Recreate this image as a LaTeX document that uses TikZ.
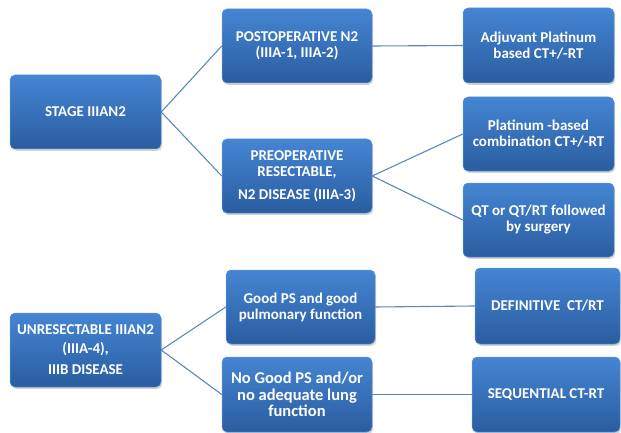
\documentclass[tikz,border=0pt]{standalone}
\usepackage{fontspec}
\setmainfont{Carlito}
\usetikzlibrary{shadows}
\definecolor{boxtop}{HTML}{4585D3}
\definecolor{boxbot}{HTML}{2A5DA0}
\definecolor{linkc}{HTML}{5D87BC}
\tikzset{
  boxn/.style={rectangle, rounded corners=5pt, draw=boxtop!85!white, line width=0.5pt,
    top color=boxtop, bottom color=boxbot, text=white, align=center,
    font=\bfseries\fontsize{15}{16}\selectfont, inner sep=1pt,
    drop shadow={opacity=0.35, shadow xshift=1.2pt, shadow yshift=-1.8pt}},
  link/.style={draw=linkc, line width=1.1pt}
}
\begin{document}
\begin{tikzpicture}[x=1pt,y=-1pt]
\useasboundingbox (0,0) rectangle (621,433);
\node[boxn, minimum width=151pt, minimum height=74pt] (stage) at (85.5,112) {STAGE IIIAN2};
\node[boxn, minimum width=150pt, minimum height=74pt] (post) at (297,46) {POSTOPERATIVE N2\\(IIIA-1, IIIA-2)};
\node[boxn, minimum width=150pt, minimum height=74pt] (pre) at (297,176) {PREOPERATIVE\\RESECTABLE,\\[7pt]N2 DISEASE (IIIA-3)};
\node[boxn, minimum width=151pt, minimum height=75pt] (adj) at (538.5,45.5) {Adjuvant Platinum\\based CT+/-RT};
\node[boxn, minimum width=151pt, minimum height=74pt] (plat) at (538.5,134) {Platinum -based\\combination CT+/-RT};
\node[boxn, minimum width=151pt, minimum height=74pt] (qt) at (538.5,220) {QT or QT/RT followed\\by surgery};
\node[boxn, minimum width=151pt, minimum height=74pt] (unres) at (85.5,350) {UNRESECTABLE IIIAN2\\[3pt](IIIA-4),\\[5pt]IIIB DISEASE};
\node[boxn, minimum width=149pt, minimum height=74pt] (good) at (300.5,307) {Good PS and good\\pulmonary function};
\node[boxn, minimum width=150pt, minimum height=75pt, font=\bfseries\fontsize{16.5}{16.5}\selectfont] (nogood) at (297,394.5) {No Good PS and/or\\no adequate lung\\function};
\node[boxn, minimum width=145pt, minimum height=76pt] (def) at (547.5,306) {DEFINITIVE~ CT/RT};
\node[boxn, minimum width=148pt, minimum height=75pt] (seq) at (546,394.5) {SEQUENTIAL CT-RT};
\path[link] (stage.east) -- (post.west);
\path[link] (stage.east) -- (pre.west);
\path[link] (post.east) -- (adj.west);
\path[link] (pre.east) -- (plat.west);
\path[link] (pre.east) -- (qt.west);
\path[link] (unres.east) -- (good.west);
\path[link] (unres.east) -- (nogood.west);
\path[link] (good.east) -- (def.west);
\path[link] (nogood.east) -- (seq.west);
\end{tikzpicture}
\end{document}
